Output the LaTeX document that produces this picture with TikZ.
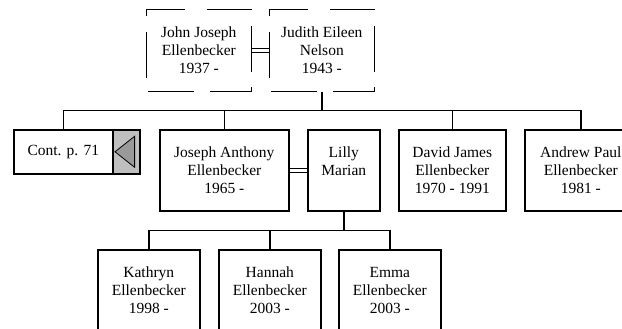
\documentclass[tikz,border=0pt]{standalone}
\usepackage{fontspec}
\setmainfont{Liberation Serif}
\tikzset{
  person/.style={draw,line width=1.6pt,inner sep=0pt,anchor=north west,font=\fontsize{15.5}{18}\selectfont},
  kin/.style={line width=1.5pt},
  wed/.style={double,double distance=3pt,line width=1pt},
  spouseline/.style={line width=0.9pt,dash pattern=on 46pt off 15.67pt,dash phase=53.8pt}
}
\newcommand{\famcard}[3]{\parbox[b][#2][t]{#1}{\centering\rule{0pt}{28pt}#3}}

\begin{document}
\begin{tikzpicture}[x=1pt,y=-1pt]
  \useasboundingbox (0,0) rectangle (622,329);
  \clip (0,0) rectangle (622,329);
  % parents
  \node[person,draw=none] (john) at (146,9) {\famcard{104pt}{81pt}{John Joseph\\Ellenbecker\\1937 -}};
  \node[person,draw=none] (judith) at (269,9) {\famcard{104pt}{81pt}{Judith Eileen\\Nelson\\1943 -}};
  \foreach \p in {john,judith}
    \draw[spouseline] (\p.north) -- (\p.north east) -- (\p.south east) -- (\p.south west) -- (\p.north west) -- cycle;
  \draw[wed] (john.east) -- (judith.west);
  % children
  \node[person,minimum height=44pt] (cont) at (13,129) {\makebox[99pt]{Cont. p. 71}\hspace{27pt}};
  \node[person,fill=lightgray,minimum width=27pt,minimum height=44pt] (contarrow) at (112,129) {};
  \draw[fill=gray!80,line width=0.8pt] ([xshift=3pt]contarrow.west) -- ([xshift=-6pt,yshift=15.5pt]contarrow.east)
    -- ([xshift=-6pt,yshift=-15.5pt]contarrow.east) -- cycle;
  \node[person] (joseph) at (159,129) {\famcard{129pt}{81pt}{Joseph Anthony\\Ellenbecker\\1965 -}};
  \node[person] (lilly) at (307,129) {\famcard{72pt}{81pt}{Lilly\\Marian}};
  \node[person] (david) at (398,129) {\famcard{107pt}{81pt}{David James\\Ellenbecker\\1970 - 1991}};
  \node[person] (andrew) at (524,129) {\famcard{112pt}{81pt}{Andrew Paul\\Ellenbecker\\1981 -}};
  \draw[wed] (joseph.east) -- (lilly.west);
  \coordinate (sibbar) at ([yshift=-19pt]judith.south);
  \draw[kin] (judith.south) -- (sibbar);
  \foreach \c in {cont,joseph,david,andrew}
    \draw[kin] (sibbar) -| (\c.north);
  % grandchildren
  \node[person] (kathryn) at (97,249) {\famcard{102pt}{84pt}{Kathryn\\Ellenbecker\\1998 -}};
  \node[person] (hannah) at (218,249) {\famcard{102pt}{84pt}{Hannah\\Ellenbecker\\2003 -}};
  \node[person] (emma) at (338,249) {\famcard{102pt}{84pt}{Emma\\Ellenbecker\\2003 -}};
  \coordinate (kidbar) at ([yshift=-19pt]lilly.south);
  \draw[kin] (lilly.south) -- (kidbar);
  \foreach \c in {kathryn,hannah,emma}
    \draw[kin] (kidbar) -| (\c.north);
\end{tikzpicture}
\end{document}
